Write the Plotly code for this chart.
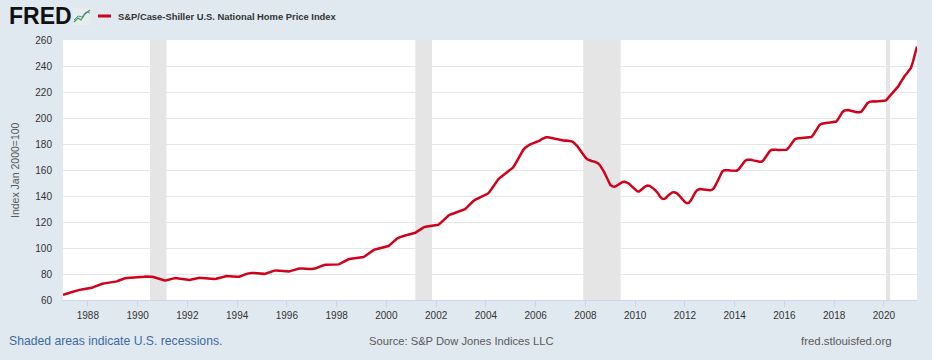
import pandas as pd
import plotly.graph_objects as go

# ---------------- data ----------------
series_name = "S&P/Case-Shiller U.S. National Home Price Index"
start_month = "1987-01-01"
index_values = [
    # 1987
    64.0, 64.3, 64.8, 65.4, 66.0, 66.6, 67.1, 67.5, 67.8, 68.0, 68.2, 68.3,
    # 1988
    68.5, 68.8, 69.4, 70.1, 70.8, 71.5, 72.1, 72.5, 72.8, 73.0, 73.1, 73.2,
    # 1989
    73.4, 73.7, 74.3, 75.0, 75.7, 76.3, 76.7, 77.0, 77.1, 77.1, 77.1, 77.0,
    # 1990
    77.2, 77.3, 77.6, 77.9, 78.1, 78.2, 78.1, 77.9, 77.5, 77.0, 76.4, 75.8,
    # 1991
    75.3, 75.0, 75.2, 75.7, 76.2, 76.6, 76.8, 76.8, 76.6, 76.3, 76.0, 75.7,
    # 1992
    75.5, 75.4, 75.7, 76.2, 76.7, 77.0, 77.1, 77.0, 76.8, 76.5, 76.3, 76.2,
    # 1993
    76.1, 76.1, 76.4, 76.9, 77.5, 78.0, 78.3, 78.4, 78.3, 78.1, 77.9, 77.8,
    # 1994
    77.8, 77.9, 78.3, 79.0, 79.7, 80.3, 80.7, 80.8, 80.7, 80.5, 80.3, 80.2,
    # 1995
    80.1, 80.1, 80.4, 81.0, 81.7, 82.3, 82.6, 82.7, 82.6, 82.4, 82.2, 82.1,
    # 1996
    82.0, 82.0, 82.4, 83.0, 83.6, 84.0, 84.2, 84.2, 84.0, 83.9, 83.8, 83.8,
    # 1997
    83.8, 83.9, 84.4, 85.1, 85.9, 86.5, 86.9, 87.1, 87.1, 87.0, 87.0, 87.0,
    # 1998
    87.1, 87.4, 88.1, 89.1, 90.1, 90.9, 91.5, 91.8, 92.0, 92.1, 92.2, 92.3,
    # 1999
    92.6, 93.1, 94.0, 95.3, 96.6, 97.7, 98.5, 99.1, 99.5, 99.8, 100.1, 100.4,
    # 2000
    100.8, 101.5, 102.8, 104.4, 105.9, 107.1, 108.0, 108.7, 109.2, 109.6, 110.0, 110.4,
    # 2001
    110.7, 111.0, 111.7, 112.8, 114.0, 115.1, 115.9, 116.4, 116.7, 116.9, 117.0, 117.1,
    # 2002
    117.3, 117.8, 119.0, 120.7, 122.4, 123.9, 125.0, 125.8, 126.4, 126.9, 127.3, 127.7,
    # 2003
    128.2, 128.8, 129.9, 131.4, 133.1, 134.7, 136.1, 137.2, 138.1, 138.9, 139.6, 140.3,
    # 2004
    141.0, 141.9, 143.6, 145.9, 148.5, 150.9, 152.8, 154.3, 155.6, 156.8, 158.0, 159.3,
    # 2005
    160.5, 161.8, 164.0, 166.9, 170.0, 172.9, 175.3, 177.1, 178.4, 179.4, 180.1, 180.7,
    # 2006
    181.1, 181.6, 182.6, 183.8, 184.7, 185.1, 185.1, 184.8, 184.3, 183.8, 183.4, 183.1,
    # 2007
    182.8, 182.6, 182.6, 182.7, 182.6, 182.2, 181.6, 180.4, 178.6, 176.4, 174.0, 171.6,
    # 2008
    169.6, 168.1, 167.3, 166.9, 166.6, 166.1, 165.3, 163.7, 161.4, 158.5, 155.2, 152.0,
    # 2009
    148.5, 147.4, 147.2, 147.8, 148.9, 150.0, 150.8, 151.0, 150.5, 149.5, 148.0, 146.4,
    # 2010
    144.8, 143.6, 143.5, 144.6, 146.2, 147.5, 148.0, 147.8, 146.9, 145.5, 143.9, 142.2,
    # 2011
    139.5, 138.0, 137.7, 138.7, 140.4, 141.9, 142.8, 142.9, 142.2, 140.8, 139.0, 137.1,
    # 2012
    135.4, 134.4, 134.8, 136.8, 139.9, 142.7, 144.6, 145.3, 145.2, 144.9, 144.6, 144.5,
    # 2013
    144.5, 144.7, 146.0, 148.9, 152.6, 156.2, 158.7, 159.8, 160.0, 159.8, 159.6, 159.5,
    # 2014
    159.4, 159.5, 160.5, 162.6, 165.0, 166.9, 167.9, 168.1, 167.8, 167.4, 166.9, 166.6,
    # 2015
    166.3, 166.4, 167.6, 170.0, 172.7, 174.6, 175.5, 175.7, 175.6, 175.4, 175.3, 175.3,
    # 2016
    175.3, 175.5, 176.9, 179.4, 182.0, 183.6, 184.3, 184.5, 184.5, 184.5, 184.6, 184.8,
    # 2017
    185.0, 185.4, 187.1, 190.0, 192.9, 194.7, 195.6, 196.0, 196.1, 196.3, 196.5, 196.7,
    # 2018
    196.9, 197.3, 199.2, 202.0, 204.5, 205.8, 206.2, 206.1, 205.6, 205.1, 204.7, 204.5,
    # 2019
    204.5, 204.8, 206.5, 209.0, 211.2, 212.4, 212.8, 212.8, 212.7, 212.7, 212.8, 213.0,
    # 2020
    213.2, 213.6, 215.3, 217.5, 219.3, 220.6, 222.2, 224.5, 227.3, 230.1, 232.3, 234.3,
    # 2021
    236.3, 238.6, 243.0, 249.0, 255.0,
]
recession_starts = ["1990-07-01", "2001-03-01", "2007-12-01", "2020-02-01"]
recession_ends = ["1991-03-01", "2001-11-01", "2009-06-01", "2020-04-01"]
tick_years = list(range(1988, 2021, 2))
y_ticks = list(range(60, 261, 20))

dates = pd.date_range(start_month, periods=len(index_values), freq="MS")

# ---------------- figure ----------------
FONT = "Liberation Sans, Arial, sans-serif"
W, H = 932, 360
L, R, T, B = 63, 15, 40, 60
PW, PH = W - L - R, H - T - B


def px(xp):
    return (xp - L) / PW


def py(yp):
    return (H - B - yp) / PH


fig = go.Figure()
fig.add_trace(go.Scatter(
    x=dates, y=index_values, mode="lines",
    line=dict(color="#d0021b", width=2.5),
    name=series_name, showlegend=False, hoverinfo="x+y",
))

shapes = []
for s, e in zip(recession_starts, recession_ends):
    shapes.append(dict(type="rect", xref="x", yref="paper", x0=s, x1=e, y0=0, y1=1,
                       fillcolor="#e5e5e5", line=dict(width=0), layer="below"))

# FRED icon (decoration)
shapes.append(dict(type="rect", xref="paper", yref="paper",
                   x0=px(73), x1=px(91), y0=py(25), y1=py(8),
                   fillcolor="#e9ecec", line=dict(width=0)))
shapes.append(dict(type="path", xref="paper", yref="paper",
                   path=f"M {px(74)} {py(22)} L {px(78)} {py(18)} L {px(81)} {py(20)} L {px(85)} {py(14)} L {px(90)} {py(10)}",
                   line=dict(color="#3f9a3f", width=1.2)))
shapes.append(dict(type="path", xref="paper", yref="paper",
                   path=f"M {px(74)} {py(20)} L {px(78)} {py(16)} L {px(82)} {py(17)} L {px(86)} {py(12)} L {px(90)} {py(13)}",
                   line=dict(color="#4d8fc7", width=1)))
# legend line
shapes.append(dict(type="line", xref="paper", yref="paper",
                   x0=px(98), x1=px(111), y0=py(16), y1=py(16),
                   line=dict(color="#d0021b", width=3)))

annotations = [
    dict(text="<b>FRED</b>", x=px(7), y=py(16), xref="paper", yref="paper",
         xanchor="left", yanchor="middle", showarrow=False,
         font=dict(family="Liberation Sans, Arial", size=23, color="#111111")),
    dict(text="<b>" + series_name.replace("&", "&amp;") + "</b>", x=px(116), y=py(16),
         xref="paper", yref="paper", xanchor="left", yanchor="middle", showarrow=False,
         font=dict(family=FONT, size=9.4, color="#333333")),
    dict(text="Index Jan 2000=100", x=px(15), y=0.5, xref="paper", yref="paper",
         xanchor="center", yanchor="middle", textangle=-90, showarrow=False,
         font=dict(family=FONT, size=10.5, color="#595959")),
    dict(text="Shaded areas indicate U.S. recessions.", x=px(7), y=py(341),
         xref="paper", yref="paper", xanchor="left", yanchor="middle", showarrow=False,
         font=dict(family=FONT, size=12.2, color="#3b6aa0")),
    dict(text="Source: S&amp;P Dow Jones Indices LLC", x=px(461), y=py(341),
         xref="paper", yref="paper", xanchor="center", yanchor="middle", showarrow=False,
         font=dict(family=FONT, size=11.2, color="#595959")),
    dict(text="fred.stlouisfed.org", x=px(894), y=py(341),
         xref="paper", yref="paper", xanchor="right", yanchor="middle", showarrow=False,
         font=dict(family=FONT, size=11.4, color="#595959")),
]

fig.update_layout(
    width=W, height=H,
    margin=dict(l=L, r=R, t=T, b=B, pad=0),
    paper_bgcolor="#e1e9f0", plot_bgcolor="#ffffff",
    shapes=shapes, annotations=annotations,
    font=dict(family=FONT, size=10, color="#333333"),
    xaxis=dict(
        type="date", range=[dates[0], dates[-1]],
        tickvals=[f"{y}-01-01" for y in tick_years],
        ticktext=[str(y) for y in tick_years],
        showgrid=False, zeroline=False,
        showline=True, linecolor="#ccd6eb", linewidth=1,
        ticks="outside", ticklen=6, tickcolor="#ccd6eb", tickwidth=1,
        tickfont=dict(family=FONT, size=10, color="#333333"),
    ),
    yaxis=dict(
        range=[60, 260], tickvals=y_ticks,
        showgrid=True, gridcolor="#e6e6e6", gridwidth=1,
        zeroline=False, showline=False, ticks="",
        ticklabelstandoff=10,
        tickfont=dict(family=FONT, size=10, color="#333333"),
    ),
)

fig.write_html(
    "out.html",
    config={"displayModeBar": False},
    post_script="document.body.style.margin='0';document.body.style.overflow='hidden';",
)
